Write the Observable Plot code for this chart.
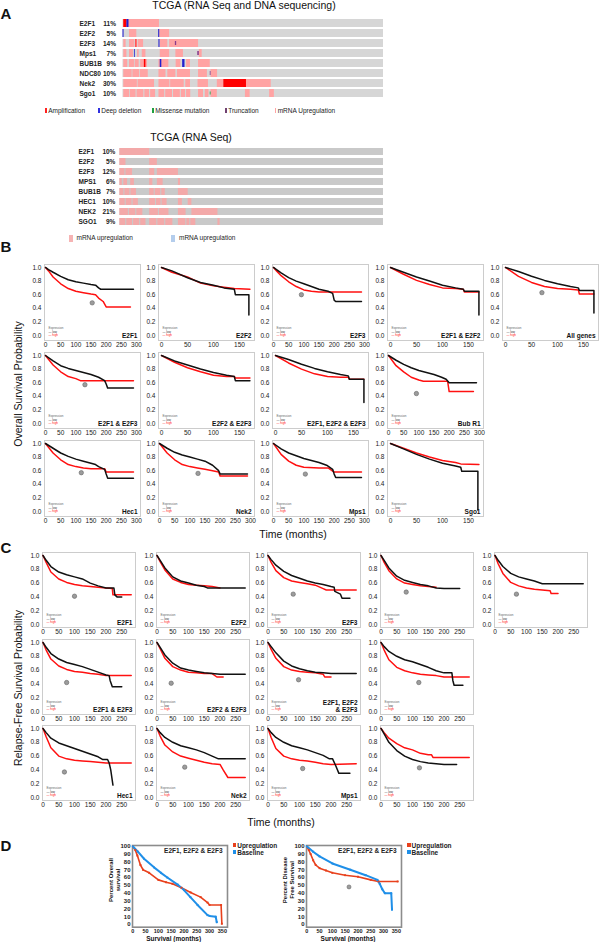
<!DOCTYPE html>
<html><head><meta charset="utf-8">
<script src="https://cdn.jsdelivr.net/npm/d3@7"></script>
<script src="https://cdn.jsdelivr.net/npm/@observablehq/plot@0.6"></script>
<style>
body{margin:0;background:#fff;}
#root{position:relative;width:600px;height:942px;overflow:hidden;font-family:"Liberation Sans",Arial,Helvetica,sans-serif;color:#111;background:#fff;}
.abs{position:absolute;white-space:pre;line-height:1;}
svg{position:absolute;overflow:visible;}
</style></head><body><div id="root"></div>
<script>
// ---------------- DATA ----------------
// Panel A (top): TCGA RNA Seq + DNA sequencing, altered sample ranges in % of samples
const oncoTopGenes = ["E2F1","E2F2","E2F3","Mps1","BUB1B","NDC80","Nek2","Sgo1"];
const oncoTopPct = ["11%","5%","14%","7%","9%","10%","30%","10%"];
const oncoTopMrna = [
  ["E2F1",0.3,14],
  ["E2F2",2.5,5.3],["E2F2",14.1,17.9],
  ["E2F3",0.3,1.2],["E2F3",2.5,4.4],["E2F3",4.7,5.6],["E2F3",5.9,7.9],["E2F3",14.3,17.2],["E2F3",17.9,29],
  ["Mps1",0.3,1.5],["Mps1",2.5,4],["Mps1",5.6,6.2],["Mps1",7.4,8.8],["Mps1",14.3,17.9],["Mps1",20.3,23.2],["Mps1",29.3,30.4],
  ["BUB1B",0.3,1.8],["BUB1B",2.5,4.4],["BUB1B",4.7,6.2],["BUB1B",6.8,9.4],["BUB1B",13.8,17.6],["BUB1B",20.4,22.2],["BUB1B",24.4,25.9],["BUB1B",29,33.5],
  ["NDC80",0.3,3.5],["NDC80",3.8,6.4],["NDC80",6.7,9.7],["NDC80",13.8,16.5],["NDC80",17.2,20.3],["NDC80",20.9,25.9],["NDC80",29,32.4],["NDC80",33.8,36.3],
  ["Nek2",0.3,5.5],["Nek2",5.8,12.1],["Nek2",13.8,18],["Nek2",18.3,23.5],["Nek2",24.1,25.9],["Nek2",28.8,32.8],["Nek2",36.2,38.7],["Nek2",47.4,56.9],
  ["Sgo1",0.3,2.5],["Sgo1",2.8,5],["Sgo1",5.4,8],["Sgo1",8.4,10.2],["Sgo1",10.6,12.5],["Sgo1",13.8,16],["Sgo1",16.4,19],["Sgo1",19.4,22],["Sgo1",22.4,24],["Sgo1",24.4,26],["Sgo1",29,30.9],["Sgo1",31.6,33],["Sgo1",33.8,36.2],["Sgo1",47,48.8],["Sgo1",56.3,58.1]
];
const oncoTopAmp = [["E2F1",0.3,1.5],["E2F3",5,5.3],["BUB1B",8.2,8.8],["Nek2",38.7,47.4]];
const oncoTopDel = [["E2F1",1.5,2.3],["E2F2",0,0.4],["E2F2",13.7,14.1],["E2F3",13.8,14.2],["Mps1",4.4,4.7],["BUB1B",14.3,14.9],["BUB1B",22.9,23.8]];
const oncoTopMis = [["Sgo1",33.5,33.8]];
const oncoTopTrunc = [["E2F3",20.1,20.6],["Mps1",28.7,29.3],["NDC80",33.5,33.8]];
const oncoTopLegend = ["Amplification","Deep deletion","Missense mutation","Truncation","mRNA Upregulation"];

// Panel A (bottom): TCGA RNA Seq
const oncoBotGenes = ["E2F1","E2F2","E2F3","MPS1","BUB1B","HEC1","NEK2","SGO1"];
const oncoBotPct = ["10%","5%","12%","6%","7%","10%","21%","9%"];
const oncoBotMrna = [
  ["E2F1",0,11.3],
  ["E2F2",0,2.3],["E2F2",11.3,14.2],
  ["E2F3",0,1.9],["E2F3",2.3,4.8],["E2F3",11.3,13.2],["E2F3",14.2,22.2],
  ["MPS1",0,0.9],["MPS1",1.5,2.9],["MPS1",4.1,5.5],["MPS1",11.3,12.5],["MPS1",14.2,16.4],["MPS1",22.2,23],
  ["BUB1B",0,1.5],["BUB1B",1.9,3.8],["BUB1B",4.2,6.3],["BUB1B",11.3,13],["BUB1B",13.4,15.5],["BUB1B",15.9,17.2],["BUB1B",22.2,25.9],
  ["HEC1",0,2],["HEC1",2.4,4.6],["HEC1",5,7],["HEC1",11.3,13.5],["HEC1",13.9,15.6],["HEC1",16,17.9],["HEC1",22.2,23.7],["HEC1",25.9,27.3],
  ["NEK2",0,3.2],["NEK2",3.6,6],["NEK2",6.4,8.7],["NEK2",11.3,14.6],["NEK2",15,18.6],["NEK2",22.2,25.1],["NEK2",27.3,37.2],
  ["SGO1",0,2.2],["SGO1",2.6,4.8],["SGO1",5.2,7.5],["SGO1",7.9,9.9],["SGO1",11.3,14],["SGO1",14.4,17],["SGO1",17.4,20.1],["SGO1",22.2,25],["SGO1",25.4,26.5],["SGO1",26.9,28.8],["SGO1",37.2,38]
];
const oncoBotLegend = ["mRNA upregulation","mRNA upregulation"];

// Panel B: overall survival [months, probability], low vs high expression
const bE2F1Low = [[0,1],[10,.97],[25,.93],[50,.87],[75,.82],[100,.79],[125,.77],[150,.75],[165,.74],[175,.70],[182,.68],[290,.68]];
const bE2F1High = [[0,1],[10,.95],[25,.86],[50,.76],[75,.69],[100,.65],[125,.63],[150,.61],[165,.60],[175,.55],[190,.50],[200,.42],[280,.42]];
const bE2F2Low = [[0,1],[20,.95],[50,.85],[75,.78],[100,.74],[120,.70],[140,.68],[142,.60],[168,.60],[168,.30]];
const bE2F2High = [[0,1],[20,.93],[50,.86],[75,.77],[100,.73],[120,.71],[140,.69],[170,.68]];
const bE2F3Low = [[0,1],[10,.97],[25,.92],[50,.85],[75,.80],[100,.76],[125,.72],[150,.68],[180,.65],[195,.62],[200,.52],[205,.50],[290,.50]];
const bE2F3High = [[0,1],[10,.95],[25,.88],[50,.79],[75,.72],[100,.67],[125,.65],[150,.64],[290,.64]];
const bE2F12Low = [[0,1],[25,.93],[50,.86],[75,.80],[100,.74],[125,.70],[140,.68],[142,.65],[170,.65],[170,.30]];
const bE2F12High = [[0,1],[25,.90],[50,.81],[75,.75],[100,.70],[125,.69],[140,.68],[142,.64],[170,.64]];
const bAllLow = [[0,1],[25,.94],[50,.87],[75,.81],[100,.76],[125,.72],[140,.70],[142,.66],[170,.66],[170,.33]];
const bAllHigh = [[0,1],[25,.87],[50,.78],[75,.72],[100,.69],[125,.68],[140,.67],[142,.61],[170,.61]];
const bE2F13Low = [[0,1],[25,.92],[50,.85],[75,.81],[100,.78],[125,.75],[150,.72],[175,.68],[195,.63],[200,.58],[205,.52],[290,.52]];
const bE2F13High = [[0,1],[25,.86],[50,.76],[75,.69],[100,.66],[115,.63],[290,.63]];
const bE2F23Low = [[0,1],[25,.92],[50,.86],[75,.80],[100,.75],[125,.71],[140,.69],[142,.63],[170,.63]];
const bE2F23High = [[0,1],[25,.90],[50,.82],[75,.76],[100,.71],[125,.69],[140,.69],[142,.67],[170,.67]];
const bE2F123Low = [[0,1],[25,.94],[50,.87],[75,.81],[100,.76],[125,.72],[140,.70],[142,.65],[170,.65],[170,.31]];
const bE2F123High = [[0,1],[25,.89],[50,.80],[75,.73],[100,.69],[125,.68],[140,.68],[142,.65],[170,.65]];
const bBubLow = [[0,1],[25,.93],[50,.87],[75,.82],[100,.78],[125,.75],[150,.72],[175,.68],[190,.65],[200,.60],[290,.60]];
const bBubHigh = [[0,1],[25,.85],[50,.76],[75,.68],[100,.64],[115,.62],[195,.62],[200,.47],[280,.47]];
const bHecLow = [[0,1],[25,.93],[50,.86],[75,.81],[100,.77],[125,.74],[150,.71],[165,.69],[175,.66],[195,.62],[200,.55],[205,.49],[290,.49]];
const bHecHigh = [[0,1],[25,.86],[50,.76],[75,.69],[100,.66],[125,.64],[150,.63],[195,.63],[200,.58],[290,.58]];
const bNekLow = [[0,1],[25,.93],[50,.87],[75,.83],[100,.80],[125,.77],[150,.74],[175,.68],[195,.60],[200,.55],[290,.55]];
const bNekHigh = [[0,1],[25,.86],[50,.76],[75,.69],[100,.66],[125,.64],[150,.62],[175,.60],[195,.58],[200,.52],[290,.52]];
const bMpsLow = [[0,1],[25,.92],[50,.86],[75,.82],[100,.78],[125,.75],[150,.72],[175,.68],[195,.62],[200,.55],[205,.50],[290,.50]];
const bMpsHigh = [[0,1],[25,.84],[50,.74],[75,.68],[100,.65],[150,.64],[180,.64],[200,.58],[290,.58]];
const bSgoLow = [[0,1],[25,.92],[50,.84],[75,.77],[100,.71],[125,.67],[135,.65],[137,.59],[168,.59],[168,.02]];
const bSgoHigh = [[0,1],[25,.93],[50,.86],[75,.80],[100,.75],[125,.72],[135,.70],[170,.69]];
const bLabels = ["E2F1","E2F2","E2F3","E2F1 & E2F2","All genes","E2F1 & E2F3","E2F2 & E2F3","E2F1, E2F2 & E2F3","Bub R1","Hec1","Nek2","Mps1","Sgo1"];
const bStars = [[154,.48],null,[92,.60],null,[70,.63],[130,.57],null,null,[92,.44],[118,.57],[127,.56],[105,.55],null];

// Panel C: relapse-free survival
const cE2F1Low = [[0,1],[10,.93],[25,.84],[50,.76],[75,.72],[100,.69],[125,.66],[150,.60],[175,.56],[200,.53],[225,.53],[228,.43],[235,.40],[250,.40]];
const cE2F1High = [[0,1],[10,.90],[25,.76],[50,.66],[75,.61],[100,.58],[125,.56],[150,.55],[175,.54],[200,.53],[220,.52],[222,.43],[280,.43]];
const cE2F2Low = [[0,1],[10,.93],[25,.82],[50,.69],[75,.63],[100,.60],[125,.57],[150,.55],[160,.53],[280,.53]];
const cE2F2High = [[0,1],[10,.91],[25,.79],[50,.66],[75,.61],[100,.58],[125,.57],[150,.56],[175,.55],[200,.53]];
const cE2F3Low = [[0,1],[10,.94],[25,.86],[50,.77],[75,.71],[100,.67],[125,.63],[150,.60],[175,.58],[200,.55],[210,.54],[212,.48],[230,.44],[235,.38],[260,.38]];
const cE2F3High = [[0,1],[10,.90],[25,.78],[50,.68],[75,.63],[100,.61],[125,.59],[150,.57],[175,.52],[185,.50],[280,.50]];
const cE2F12Low = [[0,1],[10,.93],[25,.82],[50,.70],[75,.64],[100,.61],[125,.58],[150,.56],[175,.53],[200,.52],[250,.52]];
const cE2F12High = [[0,1],[10,.90],[25,.78],[50,.66],[75,.60],[100,.58],[125,.56],[150,.55],[175,.54]];
const cAllLow = [[0,1],[10,.93],[25,.84],[50,.74],[75,.69],[100,.66],[125,.63],[150,.59],[280,.59]];
const cAllHigh = [[0,1],[10,.88],[25,.74],[50,.61],[75,.56],[100,.53],[125,.51],[150,.50],[175,.49],[178,.45],[200,.45]];
const cE2F13Low = [[0,1],[10,.93],[25,.84],[50,.76],[75,.71],[100,.68],[125,.65],[150,.61],[175,.57],[200,.53],[210,.52],[213,.45],[220,.36],[250,.36]];
const cE2F13High = [[0,1],[10,.89],[25,.76],[50,.66],[75,.61],[100,.58],[125,.57],[150,.55],[175,.54],[200,.52],[280,.52]];
const cE2F23Low = [[0,1],[10,.93],[25,.82],[50,.70],[75,.63],[100,.60],[125,.58],[150,.56],[175,.55],[200,.54],[280,.54]];
const cE2F23High = [[0,1],[10,.91],[25,.77],[50,.65],[75,.60],[100,.57],[125,.56],[150,.55],[175,.55],[190,.50],[210,.50]];
const cE2F123Low = [[0,1],[10,.94],[25,.85],[50,.73],[75,.66],[100,.62],[125,.59],[150,.57],[175,.56],[200,.55],[280,.55]];
const cE2F123High = [[0,1],[10,.90],[25,.77],[50,.65],[75,.60],[100,.58],[125,.57],[150,.56],[175,.54],[180,.50],[200,.50]];
const cBubLow = [[0,1],[10,.94],[25,.87],[50,.80],[75,.75],[100,.72],[125,.68],[150,.64],[175,.59],[200,.56],[225,.56],[228,.45],[232,.38],[260,.38]];
const cBubHigh = [[0,1],[10,.89],[25,.75],[50,.64],[75,.59],[100,.56],[125,.54],[150,.53],[175,.52],[200,.50],[280,.50]];
const cHecLow = [[0,1],[10,.94],[25,.86],[50,.79],[75,.75],[100,.71],[125,.67],[150,.63],[175,.59],[190,.55],[205,.55],[210,.50],[215,.40],[222,.18]];
const cHecHigh = [[0,1],[10,.88],[25,.72],[50,.60],[75,.56],[100,.54],[125,.53],[150,.52],[175,.51],[200,.50],[280,.50]];
const cNekLow = [[0,1],[10,.94],[25,.87],[50,.80],[75,.75],[100,.72],[125,.69],[150,.65],[175,.60],[195,.56],[280,.56]];
const cNekHigh = [[0,1],[10,.89],[25,.76],[50,.66],[75,.60],[100,.57],[125,.54],[150,.51],[175,.49],[200,.48],[210,.40],[225,.29],[280,.29]];
const cMpsLow = [[0,1],[10,.94],[25,.87],[50,.80],[75,.75],[100,.72],[125,.69],[150,.65],[175,.61],[195,.56],[205,.56],[215,.46],[225,.35],[260,.35]];
const cMpsHigh = [[0,1],[10,.87],[25,.71],[50,.60],[75,.56],[100,.54],[125,.53],[150,.51],[175,.49],[200,.48],[280,.49]];
const cSgoLow = [[0,1],[10,.92],[25,.80],[50,.68],[75,.60],[100,.55],[125,.52],[150,.50],[175,.49],[200,.48],[240,.48]];
const cSgoHigh = [[0,1],[10,.94],[25,.86],[50,.78],[75,.72],[100,.69],[125,.64],[150,.62],[160,.62],[165,.58],[280,.58]];
const cLabels = ["E2F1","E2F2","E2F3","","","E2F1 & E2F3","E2F2 & E2F3","E2F1, E2F2\n& E2F3","","Hec1","Nek2","Mps1",""];
const cStars = [[100,.41],null,[80,.44],[80,.47],[68,.44],[75,.42],[45,.41],[97,.46],[120,.42],[68,.37],[88,.44],[110,.42],[122,.43]];

// Panel D: percent survival [months, %]
const dOsUp = [[0,100],[10,95],[18,88],[30,76],[40,70],[64,66],[100,57],[130,54],[155,52],[190,47],[226,41],[265,35],[292,28],[300,25],[345,25],[348,1]];
const dOsBase = [[0,100],[20,93],[44,84],[83,73],[110,66],[135,60],[175,51],[200,44],[225,35],[253,25],[292,12],[300,11],[324,10],[328,3]];
const dDfsUp = [[0,100],[8,95],[15,90],[25,82],[35,76],[50,72],[75,69],[100,66],[150,63],[200,61],[250,57],[280,55],[355,55]];
const dDfsBase = [[0,100],[25,93],[50,87],[100,78],[170,70],[230,63],[276,57],[285,52],[295,45],[305,40],[330,40],[333,19]];
const dStars = [null,[165,48]];
const dTitles = ["E2F1, E2F2 & E2F3","E2F1, E2F2 & E2F3"];
const dYTitles = ["Percent Overall\nsurvival","Percent Disease\nFree Survival"];
const dSeries = ["Upregulation","Baseline"];

const kmYTicks = [0,0.2,0.4,0.6,0.8,1.0];
const longTicks = [0,50,100,150,200,250,300];
const shortTicks = [0,50,100,150];
const cTicks = [0,50,100,150,200,250];
const dXTicks = [0,50,100,150,200,250,300,350];
const dYTicks = [0,10,20,30,40,50,60,70,80,90,100];

// ---------------- DRAWING ----------------
const FONT = '"Liberation Sans", Arial, Helvetica, sans-serif';
const root = document.getElementById("root");
const RED = "#ff1010", BLACK = "#111";

function place(svg, left, top){ svg.style.left = left+"px"; svg.style.top = top+"px"; root.appendChild(svg); }
function txt(text, x, y, o={}){
  const d = document.createElement("div");
  d.className = "abs"; d.textContent = text;
  d.style.left = x+"px"; d.style.top = y+"px";
  d.style.fontSize = (o.size||10)+"px"; d.style.fontWeight = o.weight||"normal";
  d.style.color = o.color||"#111"; d.style.textAlign = "center";
  if (o.lh) d.style.lineHeight = o.lh;
  const tx = o.anchor==="start" ? "0" : o.anchor==="end" ? "-100%" : "-50%";
  d.style.transform = `translate(${tx},-50%)` + (o.rotate ? ` rotate(${o.rotate}deg)` : "");
  root.appendChild(d); return d;
}
function swatch(x, y, w, h, color){
  const d = document.createElement("div");
  d.className = "abs"; d.style.left = x+"px"; d.style.top = y+"px"; d.style.width = w+"px"; d.style.height = h+"px"; d.style.background = color;
  root.appendChild(d);
}

function onco(o){
  const svg = Plot.plot({
    width: 600, height: o.h, marginLeft: o.x0, marginRight: 600-o.x1, marginTop: o.mt, marginBottom: o.mb,
    x: {domain: [0,100], axis: null},
    y: {domain: o.genes, axis: null, padding: o.pad},
    style: {fontFamily: FONT, background: "transparent"},
    marks: [
      Plot.barX(o.genes, {y: d=>d, x1: 0, x2: 100, fill: o.bg}),
      Plot.barX(o.mrna, {y: d=>d[0], x1: d=>d[1], x2: d=>d[2], fill: o.pink}),
      Plot.barX(o.amp||[], {y: d=>d[0], x1: d=>d[1], x2: d=>d[2], fill: "#ff0000"}),
      Plot.barX(o.del||[], {y: d=>d[0], x1: d=>d[1], x2: d=>d[2], fill: "#2020d0"}),
      Plot.barX(o.mis||[], {y: d=>d[0], x1: d=>d[1], x2: d=>d[2], fill: "#1a9a3a", insetTop: 2.5, insetBottom: 2.5}),
      Plot.barX(o.trunc||[], {y: d=>d[0], x1: d=>d[1], x2: d=>d[2], fill: "#8a3a8a", insetTop: 2, insetBottom: 2}),
      Plot.text(o.genes, {y: d=>d, frameAnchor: "left", dx: o.nameDx, textAnchor: "start", fontSize: 6.5, fontWeight: "bold", fill: "#222"}),
      Plot.text(o.pcts, {y: (d,i)=>o.genes[i], frameAnchor: "left", dx: o.pctDx, textAnchor: "end", fontSize: 6.5, fontWeight: "bold", fill: "#222"})
    ]
  });
  place(svg, 0, o.top);
}

function km(o){
  const ml = 22, mr = 2, mt = 2, mb = 12;
  const marks = [
    Plot.frame({stroke: "#cccccc", strokeWidth: 1}),
    Plot.axisX({ticks: o.xTicks, tickSize: 0, tickPadding: 2, fontSize: 6.5, label: null, tickFormat: d=>String(d)}),
    Plot.axisY({ticks: kmYTicks, tickSize: 0, tickPadding: 3, fontSize: 6.5, label: null, tickFormat: d3.format(".1f")}),
    Plot.line(o.high, {x: d=>d[0], y: d=>d[1], stroke: RED, strokeWidth: 1.5}),
    Plot.line(o.low, {x: d=>d[0], y: d=>d[1], stroke: BLACK, strokeWidth: 1.5}),
    Plot.text(["Expression"], {frameAnchor: "bottom-left", dx: 4, dy: -12, fontSize: 3, fill: "#666", textAnchor: "start"}),
    Plot.text(["\u2014 low"], {frameAnchor: "bottom-left", dx: 4, dy: -8, fontSize: 3, fill: "#333", textAnchor: "start"}),
    Plot.text(["\u2014 high"], {frameAnchor: "bottom-left", dx: 4, dy: -4.5, fontSize: 3, fill: RED, textAnchor: "start"}),
    Plot.text([o.label], {frameAnchor: "bottom-right", dx: -3, dy: -3, fontSize: 6.5, fontWeight: "bold", textAnchor: "end", lineAnchor: "bottom", fill: "#111"})
  ];
  if (o.star) marks.push(Plot.dot([o.star], {x: d=>d[0], y: d=>d[1], r: 2.2, fill: "#9c9c9c", stroke: "#666", strokeWidth: 0.6}));
  const svg = Plot.plot({
    width: o.w+ml+mr, height: o.h+mt+mb, marginLeft: ml, marginRight: mr, marginTop: mt, marginBottom: mb,
    x: {domain: o.xDomain}, y: {domain: o.yDomain},
    style: {fontFamily: FONT, background: "transparent", color: "#222"},
    marks
  });
  place(svg, o.x-ml, o.y-mt);
}

function dplot(o){
  const ml = 22, mr = 2, mt = 4, mb = 12;
  const marks = [
    Plot.frame({stroke: "#8c8c8c", strokeWidth: 1.6}),
    Plot.axisX({ticks: dXTicks, tickSize: 0, tickPadding: 2, fontSize: 5.5, label: null, fontWeight: "bold"}),
    Plot.axisY({ticks: dYTicks, tickSize: 0, tickPadding: 2, fontSize: 6, label: null, fontWeight: "bold"}),
    Plot.line(o.up, {x: d=>d[0], y: d=>d[1], stroke: "#e8401c", strokeWidth: 1.6}),
    Plot.line(o.base, {x: d=>d[0], y: d=>d[1], stroke: "#1f8fe8", strokeWidth: 2}),
    Plot.dot(o.up.slice(1), {x: d=>d[0], y: d=>d[1], symbol: "square", r: 1.1, fill: "#e8401c"}),
    Plot.dot(o.base.slice(1), {x: d=>d[0], y: d=>d[1], symbol: "square", r: 1.1, fill: "#1f8fe8"}),
    Plot.text([o.title], {frameAnchor: "top-right", dx: -5, dy: 5, fontSize: 6.5, fontWeight: "bold", textAnchor: "end", lineAnchor: "middle", fill: "#222"})
  ];
  if (o.star) marks.push(Plot.dot([o.star], {x: d=>d[0], y: d=>d[1], r: 2, fill: "#9c9c9c", stroke: "#666", strokeWidth: 0.6}));
  const svg = Plot.plot({
    width: o.w+ml+mr, height: o.h+mt+mb, marginLeft: ml, marginRight: mr, marginTop: mt, marginBottom: mb,
    x: {domain: [-1,370]}, y: {domain: [-3.4,100.9]},
    style: {fontFamily: FONT, background: "transparent", color: "#222"},
    marks
  });
  place(svg, o.x-ml, o.y-mt);
}

// ----- Panel A -----
txt("A", 6, 13, {size: 15, weight: "bold"});
txt("TCGA (RNA Seq and DNA sequencing)", 244, 5, {size: 10.5});
onco({top: 0, h: 102, x0: 122.5, x1: 383, mt: 16, mb: 2.5, pad: 0.16, genes: oncoTopGenes, pcts: oncoTopPct,
  mrna: oncoTopMrna, amp: oncoTopAmp, del: oncoTopDel, mis: oncoTopMis, trunc: oncoTopTrunc,
  bg: "#d6d6d6", pink: "#ffa3a3", nameDx: -43.5, pctDx: -7});
{
  const cols = ["#ff2020","#3030e0","#20a040","#704070","#ffa3a3"];
  const xs = [46, 99, 153, 226, 275.5];
  oncoTopLegend.forEach((t,i)=>{ swatch(xs[i]-0.6, 107.5, 1.3, 5.5, cols[i]); txt(t, xs[i]+2.2, 110.5, {size: 6.5, anchor: "start", color: "#222"}); });
}
txt("TCGA (RNA Seq)", 191, 137, {size: 10.5});
onco({top: 138, h: 96, x0: 119.4, x1: 383, mt: 3.8, mb: 3.4, pad: 0.3, genes: oncoBotGenes, pcts: oncoBotPct,
  mrna: oncoBotMrna, bg: "#c9c9c9", pink: "#f3a9a9", nameDx: -41.4, pctDx: -4.5});
swatch(69, 234.5, 4, 7, "#f6b4b4"); txt(oncoBotLegend[0], 76.5, 238, {size: 6.5, anchor: "start", color: "#222"});
swatch(171, 234.5, 4, 7, "#b4cdec"); txt(oncoBotLegend[1], 179, 238, {size: 6.5, anchor: "start", color: "#222"});

// ----- Panel B -----
txt("B", 6, 246, {size: 15, weight: "bold"});
{
  const low = [bE2F1Low,bE2F2Low,bE2F3Low,bE2F12Low,bAllLow,bE2F13Low,bE2F23Low,bE2F123Low,bBubLow,bHecLow,bNekLow,bMpsLow,bSgoLow];
  const high = [bE2F1High,bE2F2High,bE2F3High,bE2F12High,bAllHigh,bE2F13High,bE2F23High,bE2F123High,bBubHigh,bHecHigh,bNekHigh,bMpsHigh,bSgoHigh];
  const isLong = [1,0,1,0,0,1,0,0,1,1,1,1,0];
  const cell = [[0,0],[1,0],[2,0],[3,0],[4,0],[0,1],[1,1],[2,1],[3,1],[0,2],[1,2],[2,2],[3,2]];
  const colX = [43.5,157.5,272,387,502], rowY = [264,352,440];
  low.forEach((l,i)=>{
    km({x: colX[cell[i][0]], y: rowY[cell[i][1]], w: 96, h: 76, low: l, high: high[i], label: bLabels[i], star: bStars[i],
      xDomain: isLong[i] ? [-3.3,313.2] : [-5.8,178.8], xTicks: isLong[i] ? longTicks : shortTicks, yDomain: [-0.074,1.044]});
  });
}
txt("Overall Survival Probability", 18, 384, {size: 10.5, rotate: -90});
txt("Time (months)", 293, 534, {size: 10.5});

// ----- Panel C -----
txt("C", 6, 547, {size: 15, weight: "bold"});
{
  const low = [cE2F1Low,cE2F2Low,cE2F3Low,cE2F12Low,cAllLow,cE2F13Low,cE2F23Low,cE2F123Low,cBubLow,cHecLow,cNekLow,cMpsLow,cSgoLow];
  const high = [cE2F1High,cE2F2High,cE2F3High,cE2F12High,cAllHigh,cE2F13High,cE2F23High,cE2F123High,cBubHigh,cHecHigh,cNekHigh,cMpsHigh,cSgoHigh];
  const cell = [[0,0],[1,0],[2,0],[3,0],[4,0],[0,1],[1,1],[2,1],[3,1],[0,2],[1,2],[2,2],[3,2]];
  const colX = [42,156,267,380,494], rowY = [552,639,725];
  low.forEach((l,i)=>{
    km({x: colX[cell[i][0]], y: rowY[cell[i][1]], w: 93, h: 75, low: l, high: high[i], label: cLabels[i], star: cStars[i],
      xDomain: [-1.6,293.6], xTicks: cTicks, yDomain: [-0.043,1.043]});
  });
}
txt("Relapse-Free Survival Probability", 18, 688, {size: 10.5, rotate: -90});
txt("Time (months)", 281, 822, {size: 10.5});

// ----- Panel D -----
txt("D", 6, 845, {size: 15, weight: "bold"});
{
  const ups = [dOsUp, dDfsUp], bases = [dOsBase, dDfsBase];
  const xs = [131.7, 306];
  ups.forEach((u,i)=>{
    dplot({x: xs[i], y: 845, w: 95, h: 81.7, up: u, base: bases[i], title: dTitles[i], star: dStars[i]});
    const lx = xs[i]+101;
    swatch(lx, 843, 3.5, 3.5, "#e8401c"); txt(dSeries[0], lx+4.5, 845.5, {size: 6.5, weight: "bold", anchor: "start", color: "#222"});
    swatch(lx, 850, 3.5, 3.5, "#1f8fe8"); txt(dSeries[1], lx+4.5, 852.5, {size: 6.5, weight: "bold", anchor: "start", color: "#222"});
    txt(dYTitles[i], xs[i]-17, 880, {size: 6, weight: "bold", rotate: -90, lh: "1.15"});
    txt("Survival (months)", xs[i]+42, 938.5, {size: 6.5, weight: "bold"});
  });
}
</script></body></html>
